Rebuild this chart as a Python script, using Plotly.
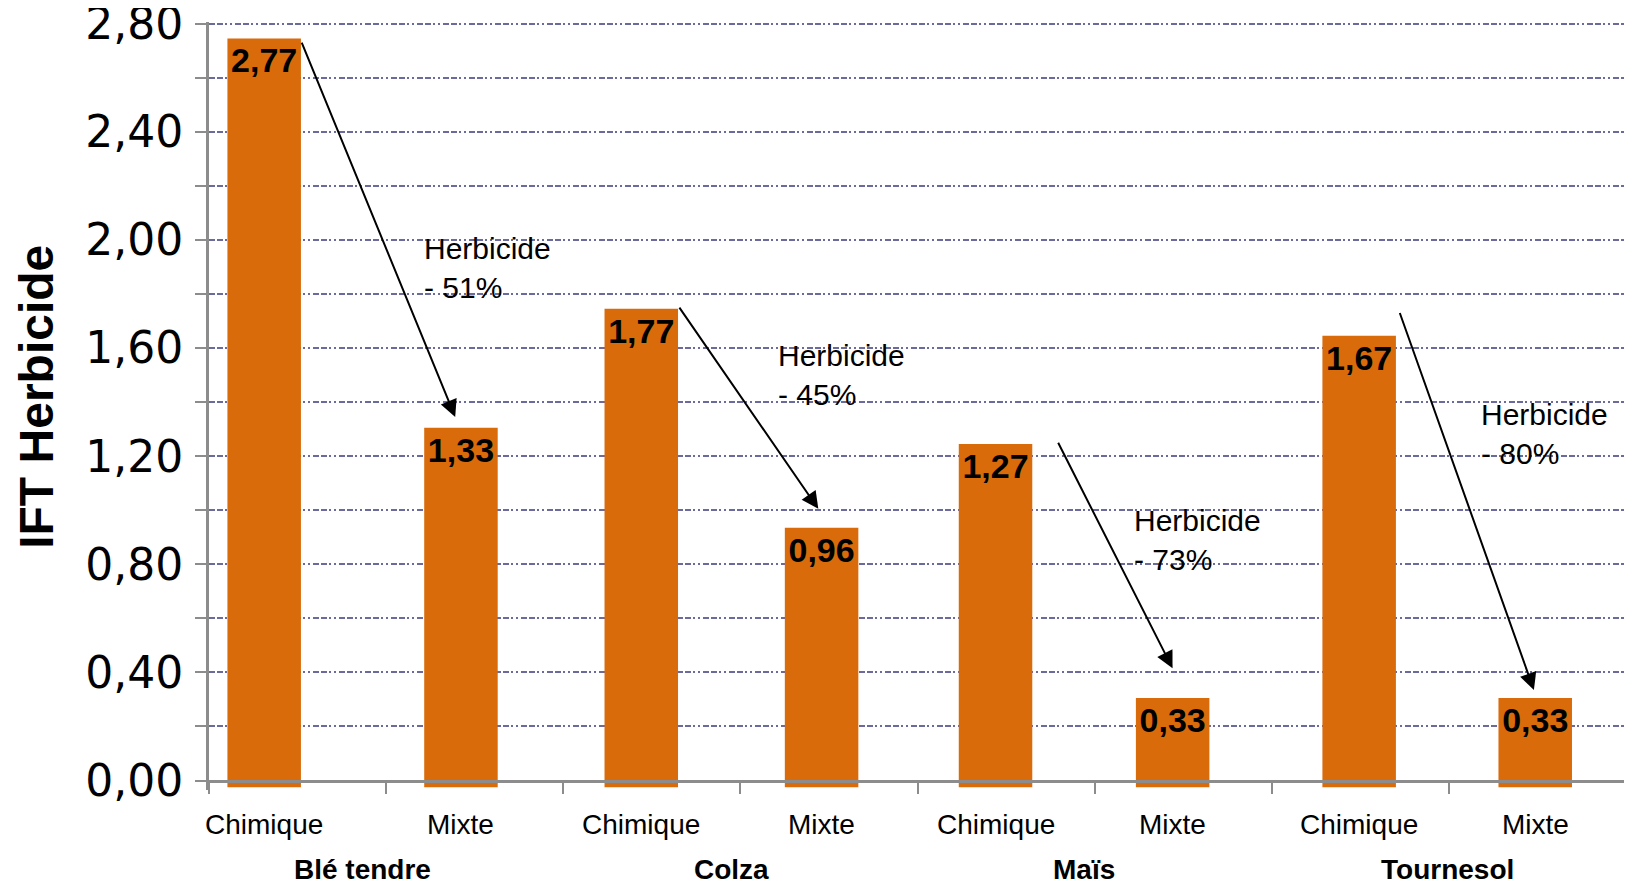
import plotly.graph_objects as go

# ---- data ----
crops = ["Blé tendre", "Blé tendre", "Colza", "Colza", "Maïs", "Maïs", "Tournesol", "Tournesol"]
systems = ["Chimique", "Mixte", "Chimique", "Mixte", "Chimique", "Mixte", "Chimique", "Mixte"]
ift_values = [2.77, 1.33, 1.77, 0.96, 1.27, 0.33, 1.67, 0.33]
reduction_labels = ["Herbicide<br>- 51%", "Herbicide<br>- 45%", "Herbicide<br>- 73%", "Herbicide<br>- 80%"]
y_title = "IFT Herbicide"

# ---- style ----
BAR_COLOR = "#D96B0B"
GRID_COLOR = "#6A6A9C"
AXIS_COLOR = "#8C8C8C"
GRID_DASH = "6px,2px,6px,2px,2px,3px,2px,3px"
BASE = -0.025
Y_MAX = 2.806
BAR_W = 0.415
BAR_OFFSETS = [-0.396, -0.285, -0.267, -0.249, -0.267, -0.267, -0.214, -0.22]
ARIAL = "Liberation Sans, Arial, sans-serif"

def fr(v):
    return f"{v:.2f}".replace(".", ",")

bar_centers = [i + o + BAR_W / 2 for i, o in enumerate(BAR_OFFSETS)]

fig = go.Figure()
fig.add_trace(go.Bar(
    x=[crops, systems],
    y=ift_values,
    base=BASE,
    width=BAR_W,
    offset=BAR_OFFSETS,
    marker=dict(color=BAR_COLOR, line=dict(width=0)),
    text=[f"<b>{fr(v)}</b>" for v in ift_values],
    textposition="inside",
    insidetextanchor="end",
    textangle=0,
    constraintext="none",
    textfont=dict(family=ARIAL, size=34, color="black"),
    hoverinfo="skip",
))

annotations = []
# arrows: tail near top of "Chimique" bar, head just above "Mixte" bar
arrow_tail_dx = [0.02, 0.15, 0.29, 0.22]
arrow_tail_dy = [0.0, 0.02, 0.02, 0.10]
arrow_head_dx = [-0.11, -0.06, -0.06, -0.02]
arrow_head_dy = [0.05, 0.08, 0.12, 0.04]
label_pos = [(0.70, 1.897), (2.70, 1.501), (4.71, 0.890), (6.67, 1.281)]
for k in range(4):
    ic, im = 2 * k, 2 * k + 1
    annotations.append(dict(
        x=im + arrow_head_dx[k], y=ift_values[im] - 0.035 + arrow_head_dy[k],
        ax=ic + arrow_tail_dx[k], ay=ift_values[ic] - 0.035 + arrow_tail_dy[k],
        xref="x", yref="y", axref="x", ayref="y",
        text="", showarrow=True, arrowhead=2, arrowsize=1.7, arrowwidth=2,
        arrowcolor="black", standoff=0, startstandoff=0,
    ))
    lx, ly = label_pos[k]
    annotations.append(dict(
        x=lx, y=ly, xref="x", yref="y", text=reduction_labels[k],
        showarrow=False, xanchor="left", yanchor="middle", align="left",
        font=dict(family=ARIAL, size=30, color="black"),
    ))

# category labels (two levels) under the axis, centred on the bars
for i, s in enumerate(systems):
    annotations.append(dict(
        x=bar_centers[i], y=0, xref="x", yref="y", yshift=-44, text=s, showarrow=False,
        xanchor="center", yanchor="middle",
        font=dict(family=ARIAL, size=28, color="black"),
    ))
for k in range(0, len(crops), 2):
    annotations.append(dict(
        x=(bar_centers[k] + bar_centers[k + 1]) / 2, y=0, xref="x", yref="y", yshift=-89,
        text=f"<b>{crops[k]}</b>",
        showarrow=False, xanchor="center", yanchor="middle",
        font=dict(family=ARIAL, size=28, color="black"),
    ))

annotations.append(dict(
    xref="paper", yref="paper", x=0, y=0.512, xshift=-172,
    text=f"<b>{y_title}</b>", textangle=-90, showarrow=False,
    xanchor="center", yanchor="middle",
    font=dict(family=ARIAL, size=48, color="black"),
))

# the page body has an 8px margin: size the figure to fit the window
fig.update_layout(
    width=1624, height=878,
    margin=dict(l=201, r=6, t=14, b=96, autoexpand=False),
    plot_bgcolor="white", paper_bgcolor="white",
    showlegend=False,
    separators=",.",
    annotations=annotations,
    xaxis=dict(
        type="multicategory",
        range=[-0.5, len(systems) - 0.5],
        anchor="free",
        position=(0 - (-0.035)) / (Y_MAX - (-0.035)),
        automargin=False,
        showline=True, linecolor=AXIS_COLOR, linewidth=3,
        ticks="outside", tickson="boundaries", ticklen=11, tickwidth=2, tickcolor=AXIS_COLOR,
        showdividers=False, showgrid=False, showticklabels=False,
    ),
    yaxis=dict(
        range=[-0.035, Y_MAX],
        automargin=False,
        tickmode="linear", tick0=0, dtick=0.4, tickformat=".2f",
        showgrid=True, gridcolor=GRID_COLOR, gridwidth=2, griddash=GRID_DASH,
        minor=dict(tick0=0, dtick=0.2, showgrid=True, gridcolor=GRID_COLOR, gridwidth=2,
                   griddash=GRID_DASH, ticks="outside", ticklen=11, tickwidth=2, tickcolor=AXIS_COLOR),
        showline=True, linecolor=AXIS_COLOR, linewidth=3,
        ticks="outside", ticklen=11, tickwidth=2, tickcolor=AXIS_COLOR,
        zeroline=False,
        ticklabelstandoff=3,
        ticklabeloverflow="allow",
        tickfont=dict(family="DejaVu Sans, sans-serif", size=44, color="black"),
    ),
)

fig.write_html("out.html")
